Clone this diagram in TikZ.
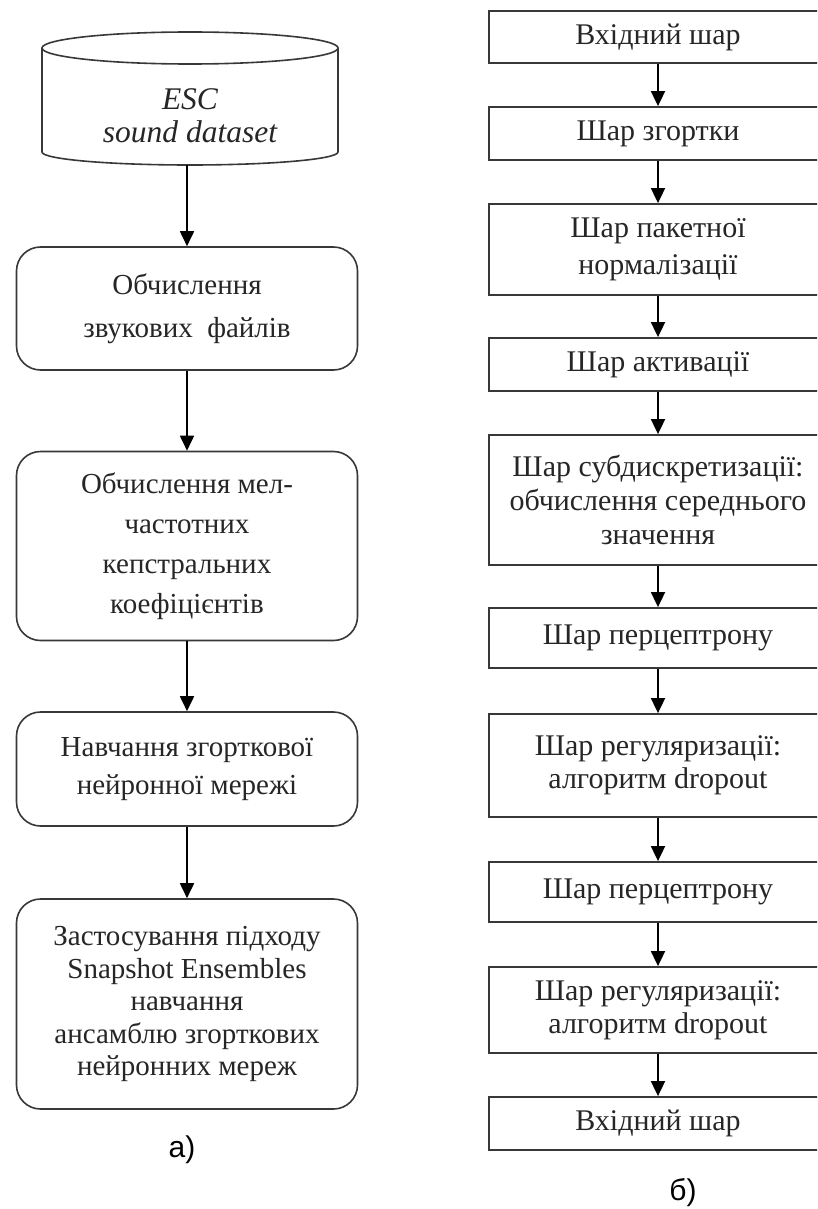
\documentclass[tikz,border=0pt]{standalone}
\usepackage{fontspec}
\setmainfont{Liberation Serif}
\newfontfamily\capfont{Liberation Sans}
\usetikzlibrary{arrows.meta}

\begin{document}
\begin{tikzpicture}[x=1pt,y=-1pt,
  every node/.style={text=black!85},
  layerbox/.style={draw=black!78, line width=1.8pt, rectangle, minimum width=338pt,
    inner sep=0pt, align=center, font=\fontsize{30}{35}\selectfont},
  stagebox/.style={draw=black!78, line width=1.6pt, rounded corners=24pt, minimum width=341pt,
    inner sep=0pt, align=center},
  flow/.style={draw=black, line width=1.8pt, -{Triangle[length=15pt,width=14pt]}},
  caption/.style={font=\capfont\fontsize{30}{34}\selectfont, text=black},
]
\clip (0,0) rectangle (817,1209);
\fill[white] (0,0) rectangle (817,1209);

% ---------- left column: processing pipeline ----------
% data store drawn as a cylinder
\draw[draw=black!78, line width=1.6pt] (42,48) -- (42,152)
  arc[start angle=180, end angle=0, x radius=148, y radius=13] -- (338,48);
\draw[draw=black!78, line width=1.6pt] (190,48) ellipse[x radius=148, y radius=16];
\node[anchor=south, inner xsep=0pt, inner ysep=22pt, align=center,
      font=\itshape\fontsize{31.5}{33}\selectfont] (db) at (190,165) {ESC\\sound dataset};

\node[stagebox, minimum height=123pt, font=\fontsize{29}{43}\selectfont] (l1) at (187,308.5)
  {Обчислення\\звукових\ \ файлів};
\node[stagebox, minimum height=189pt, font=\fontsize{29}{40}\selectfont] (l2) at (187,546)
  {Обчислення мел-\\частотних\\кепстральних\\коефіцієнтів};
\node[stagebox, minimum height=114pt, font=\fontsize{29}{38}\selectfont] (l3) at (187,769)
  {Навчання згорткової\\нейронної мережі};
\node[stagebox, minimum height=210pt, font=\fontsize{29}{32.5}\selectfont] (l4) at (187,1004)
  {Застосування підходу\\Snapshot Ensembles\\навчання\hspace*{1.2em}\\ансамблю згорткових\\нейронних мереж};

\draw[flow] (db.south -| l1.north) -- (l1.north);
\draw[flow] (l1) -- (l2);
\draw[flow] (l2) -- (l3);
\draw[flow] (l3) -- (l4);

\node[caption] (capa) at (182,1150) {а)};

% ---------- right column: network layers ----------
\node[layerbox, minimum height=52pt]  (r1)  at (658,37)     {Вхідний шар};
\node[layerbox, minimum height=53pt]  (r2)  at (658,133.5)  {Шар згортки};
\node[layerbox, minimum height=91pt, font=\fontsize{30}{37}\selectfont]  (r3)  at (658,249.5)
  {Шар пакетної\\нормалізації};
\node[layerbox, minimum height=53pt]  (r4)  at (658,364.5)  {Шар активації};
\node[layerbox, minimum height=130pt, font=\fontsize{30}{34}\selectfont] (r5)  at (658,500)
  {Шар субдискретизації:\\обчислення середнього\\значення};
\node[layerbox, minimum height=60pt]  (r6)  at (658,638)    {Шар перцептрону};
\node[layerbox, minimum height=103pt, font=\fontsize{30}{33}\selectfont] (r7)  at (658,765.5)
  {Шар регуляризації:\\алгоритм dropout};
\node[layerbox, minimum height=60pt]  (r8)  at (658,892)    {Шар перцептрону};
\node[layerbox, minimum height=86pt, font=\fontsize{30}{33}\selectfont]  (r9)  at (658,1010)
  {Шар регуляризації:\\алгоритм dropout};
\node[layerbox, minimum height=53pt]  (r10) at (658,1123.5) {Вхідний шар};

\foreach \a/\b in {r1/r2, r2/r3, r3/r4, r4/r5, r5/r6, r6/r7, r7/r8, r8/r9, r9/r10}
  \draw[flow] (\a) -- (\b);

\node[caption] (capb) at (683,1193) {б)};
\end{tikzpicture}
\end{document}
